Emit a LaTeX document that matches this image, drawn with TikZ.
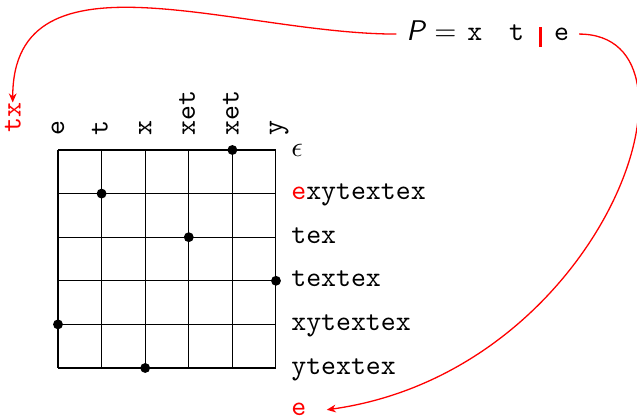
\documentclass[tikz,border=0pt,11pt]{standalone}
\usepackage{xcolor}
\usepackage{tikz}
\usetikzlibrary{arrows.meta,positioning}
\tikzset{
  collbl/.style={rotate=90, anchor=mid west, inner sep=0pt, font=\ttfamily},
  rowlbl/.style={anchor=mid west, inner sep=0pt, font=\ttfamily},
  hit/.style={circle, fill=black, inner sep=0pt, minimum size=3.8pt},
  link/.style={-{Stealth[length=3.5pt,width=3pt]}, draw=red, line width=0.5pt},
}

\begin{document}
\begin{tikzpicture}[scale=0.59]
\useasboundingbox (-1.330,-1.170) rectangle (13.28,8.440);
\draw (0,0) grid (5,5);

\foreach \lab [count=\i from 0] in {e,t,x,xet,xet,y}
  \node[collbl] (c\i) at (\i,5.32) {\lab};
\foreach \lab [count=\j from 0] in {{$\epsilon$},{\textcolor{red}{e}xytextex},tex,textex,xytextex,ytextex}
  \node[rowlbl] (r\j) at (5.34,5-\j) {\lab};

\foreach \p in {(4,5),(1,4),(3,3),(5,2),(0,1),(2,0)}
  \node[hit] at \p {};

\node[collbl, text=red] (tx) at (-1,5.38) {tx};
\node[rowlbl, text=red, inner xsep=7.7pt] (eout) at (4.88,-0.96) {e};
\node[anchor=base west] (pat) at (7.76,7.5)
  {\textsf{\itshape P}\hspace{3pt}$=$\hspace{4.2pt}\texttt{x}\hspace{10.4pt}\texttt{t}\hspace{5.7pt}{\color{red}\rule[-2.3pt]{1pt}{7.7pt}}\hspace{4.8pt}\texttt{e}};

\draw[link] (pat.west) to[out=180, in=90, looseness=1.05] (tx.east);
\draw[link] (pat.east) .. controls +(3.21,0) and +(6.36,0.89) .. (eout.east);
\end{tikzpicture}
\end{document}
